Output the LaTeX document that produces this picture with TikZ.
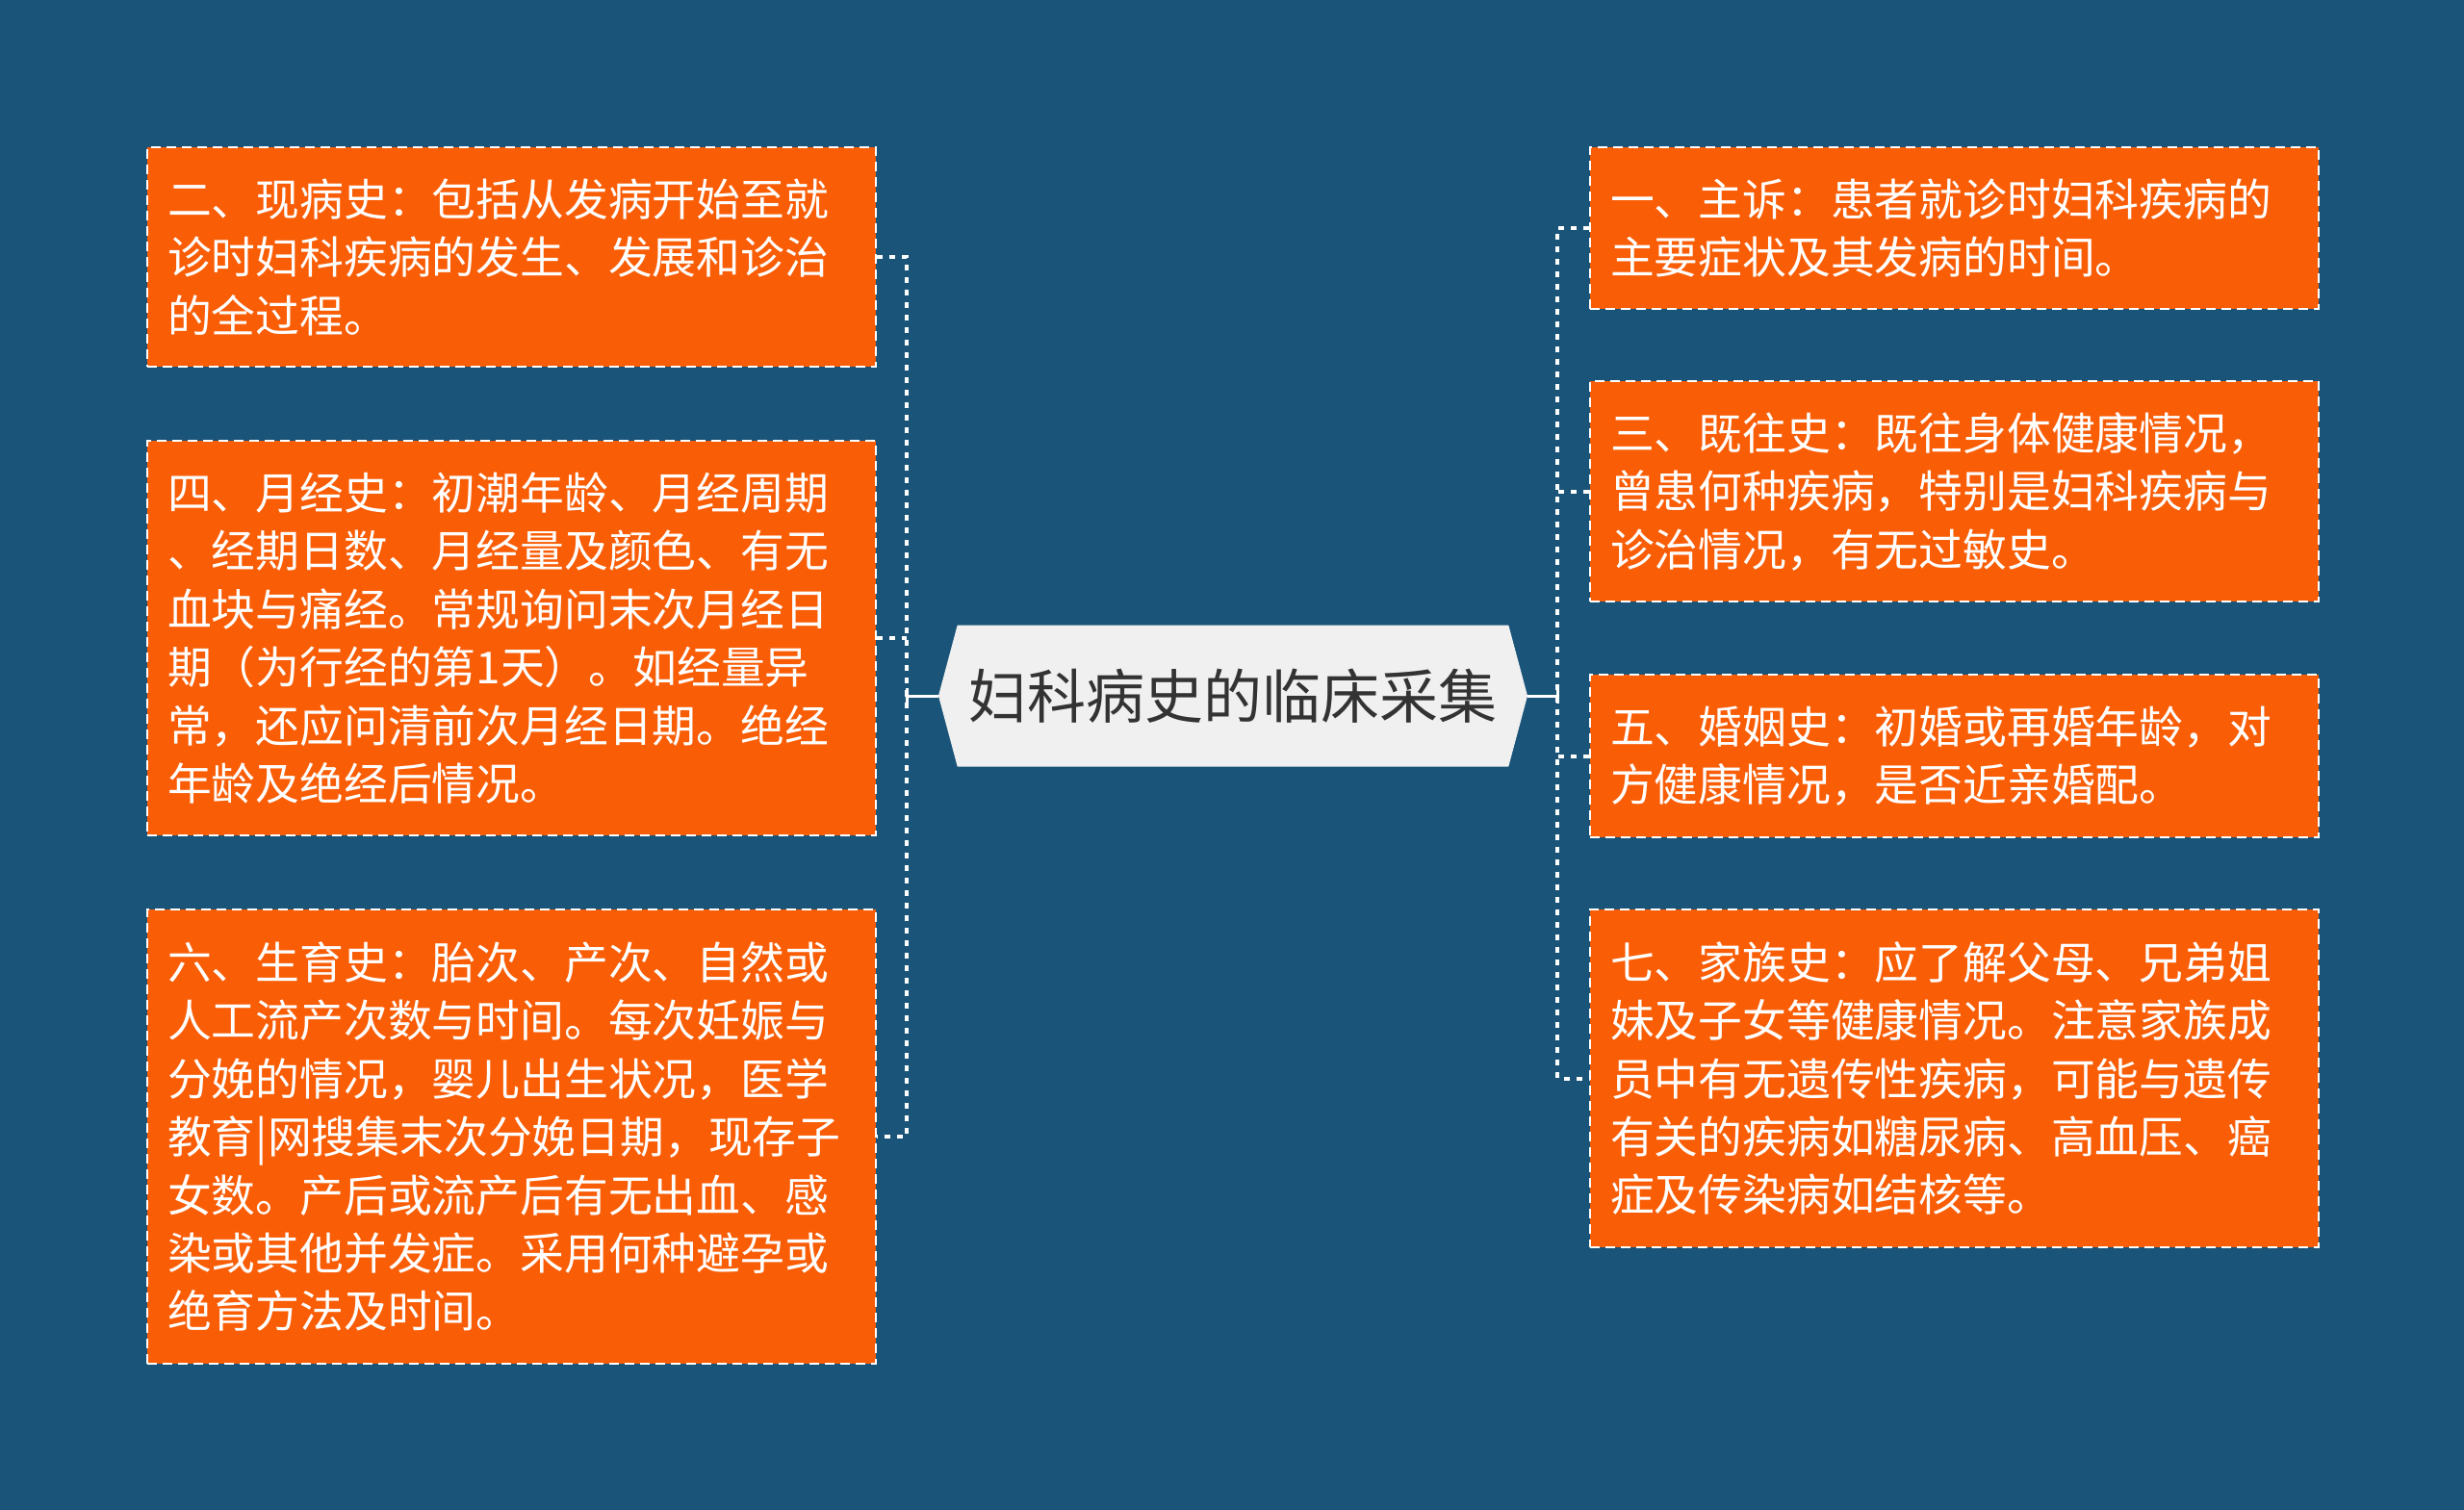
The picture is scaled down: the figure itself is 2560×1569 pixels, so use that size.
\documentclass[tikz,border=0pt]{standalone}
\usepackage{fontspec}
\setmainfont{Noto Sans CJK SC}
\usetikzlibrary{shapes.symbols}
\definecolor{bgblue}{HTML}{1A5479}
\definecolor{leaforange}{HTML}{F95D06}
\definecolor{rootgray}{HTML}{F0F0F0}
\definecolor{roottext}{HTML}{333333}

\begin{document}
\begin{tikzpicture}[x=0.5pt,y={(0pt,-0.5pt)},
  leaf/.style={draw=white,fill=leaforange,text=white,dash pattern=on 5pt off 3pt,line width=1.1pt,
    anchor=north west,minimum width=378.5pt,inner xsep=10.5pt,inner ysep=0pt,
    text width=357.5pt,align=left,font=\fontsize{22.9pt}{30.2pt}\selectfont},
  root/.style={shape=signal,signal to=west and east,signal pointer angle=150,fill=rootgray,
    text=roottext,minimum width=306pt,minimum height=73.5pt,inner sep=0pt,
    font=\fontsize{30.5pt}{36pt}\selectfont},
  spine/.style={white,line width=2pt,dash pattern=on 3pt off 3.5pt},
  stub/.style={white,line width=1.5pt}]
  \fill[bgblue] (0,0) rectangle (2560,1569);
  \useasboundingbox (0,0) rectangle (2560,1569);
  \node[root] (root) at (1281,723) {妇科病史的临床采集};
  % left side
  \node[leaf,minimum height=114pt] (n2) at (152,152)
    {二、现病史：包括从发病开始至就\\诊时妇科疾病的发生、发展和诊治\\的全过程。};
  \node[leaf,minimum height=205pt] (n4) at (152,457)
    {四、月经史：初潮年龄、月经周期\\、经期日数、月经量及颜色、有无\\血块与痛经。常规询问末次月经日\\期（为行经的第1天）。如经量异\\常，还应问清前次月经日期。绝经\\年龄及绝经后情况。};
  \node[leaf,minimum height=236pt] (n6) at (152,944)
    {六、生育史：胎次、产次、自然或\\人工流产次数与时间。每次妊娠与\\分娩的情况，婴儿出生状况，医学\\教育|网搜集末次分娩日期，现存子\\女数。产后或流产后有无出血、感\\染或其他并发症。采用何种避孕或\\绝育方法及时间。};
  % right side
  \node[leaf,minimum height=84pt] (n1) at (1651,152)
    {一、主诉：患者就诊时妇科疾病的\\主要症状及其发病的时间。};
  \node[leaf,minimum height=114.5pt] (n3) at (1651,395)
    {三、既往史：既往身体健康情况，\\曾患何种疾病，特别是妇科疾病与\\诊治情况，有无过敏史。};
  \node[leaf,minimum height=84.5pt] (n5) at (1651,700)
    {五、婚姻史：初婚或再婚年龄，对\\方健康情况，是否近亲婚配。};
  \node[leaf,minimum height=175.5pt] (n7) at (1651,944)
    {七、家族史：应了解父母、兄弟姐\\妹及子女等健康情况。注意家族成\\员中有无遗传性疾病，可能与遗传\\有关的疾病如糖尿病、高血压、癌\\症及传染病如结核等。};
  \coordinate (lj) at (942,723);
  \coordinate (rj) at (1618,723);
  \draw[spine] (n2.east) -| (lj) |- (n6.east);
  \draw[spine] (n4.east) -- (n4.east -| lj);
  \draw[spine] (n1.west) -| (rj) |- (n7.west);
  \draw[spine] (n3.west) -- (n3.west -| rj);
  \draw[spine] (n5.west) -- (n5.west -| rj);
  \draw[stub] (root.west) -- (lj);
  \draw[stub] (root.east) -- (rj);
  \draw[stub] ([yshift=4pt]lj) -- ([yshift=-4pt]lj);
  \draw[stub] ([yshift=4pt]rj) -- ([yshift=-4pt]rj);
\end{tikzpicture}
\end{document}
